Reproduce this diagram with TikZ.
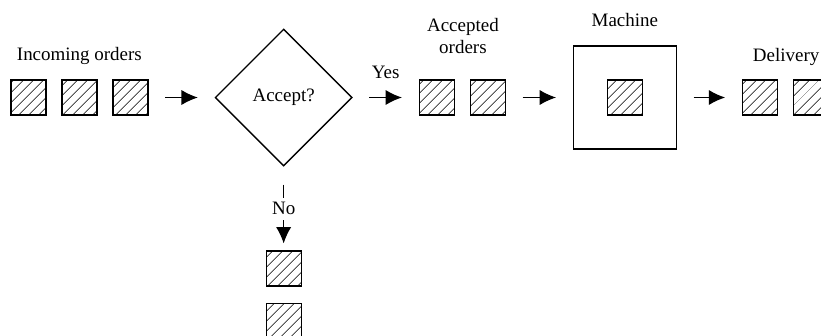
\documentclass[tikz,border=0pt]{standalone}
\usepackage{fontspec}
\setmainfont{Liberation Serif}
\usepackage{tikz}
\usetikzlibrary{arrows.meta}
\usetikzlibrary{positioning}
\usetikzlibrary{patterns.meta}
\usetikzlibrary{shapes.geometric}
\tikzstyle{order}=[draw,pattern={Lines[angle=45,distance=6.5pt,line width=0.7pt]},minimum size=1.05cm,inner sep=0pt]
\tikzstyle{caption}=[font=\fontsize{16.2}{18.8}\selectfont,inner sep=0pt]

\begin{document}
\begin{tikzpicture}[x=0.03cm,y=-0.03cm,line width=1.1pt,node distance=0.445cm,
  flow/.style={->,>={Latex[length=14pt,width=13pt]},shorten <=0.5cm,shorten >=0.5cm}]
\clip (0,0) rectangle (821,335);
% incoming queue
\node [order] (in1) at (28.5,97.5) {};
\node [order,right=of in1] (in2) {};
\node [order,right=of in2] (in3) {};
\node [caption,anchor=base] (incoming) at ([yshift=0.57cm]in2.north) {Incoming orders};
% decision
\node [draw,diamond,minimum width=4.11cm,minimum height=4.11cm,right=1.975cm of in3,caption] (accept) {Accept?};
% accepted queue
\node [order,right=1.975cm of accept] (acc1) {};
\node [order,right=of acc1] (acc2) {};
\node [caption,align=center,anchor=south] (accepted) at ([xshift=0.24cm,yshift=0.75cm]acc1.north east) {Accepted\\orders};
% machine
\node [draw,minimum size=3.09cm,inner sep=0pt,right=2.0cm of acc2] (machine) {};
\node [order] (job) at (machine) {};
\node [caption,anchor=base] (machinelabel) at ([yshift=0.57cm]machine.north) {Machine};
% delivery
\node [order,right=1.945cm of machine] (del1) {};
\node [order,right=of del1] (del2) {};
\node [caption,anchor=base] (delivery) at ([xshift=0.24cm,yshift=0.54cm]del1.north east) {Delivery};
% rejected
\node [order,below=2.515cm of accept] (rej1) {};
\node [order,below=0.475cm of rej1] (rej2) {};

\draw[flow] (in3) -- (accept);
\draw[flow] (accept) -- node[caption,anchor=base,yshift=0.57cm]{Yes} (acc1);
\draw[flow] (acc2) -- (machine);
\draw[flow] (machine) -- (del1);
\draw[flow,shorten <=0.54cm,shorten >=0.21cm] (accept) -- node[caption,fill=white,inner sep=4pt]{No} (rej1);
\end{tikzpicture}
\end{document}
